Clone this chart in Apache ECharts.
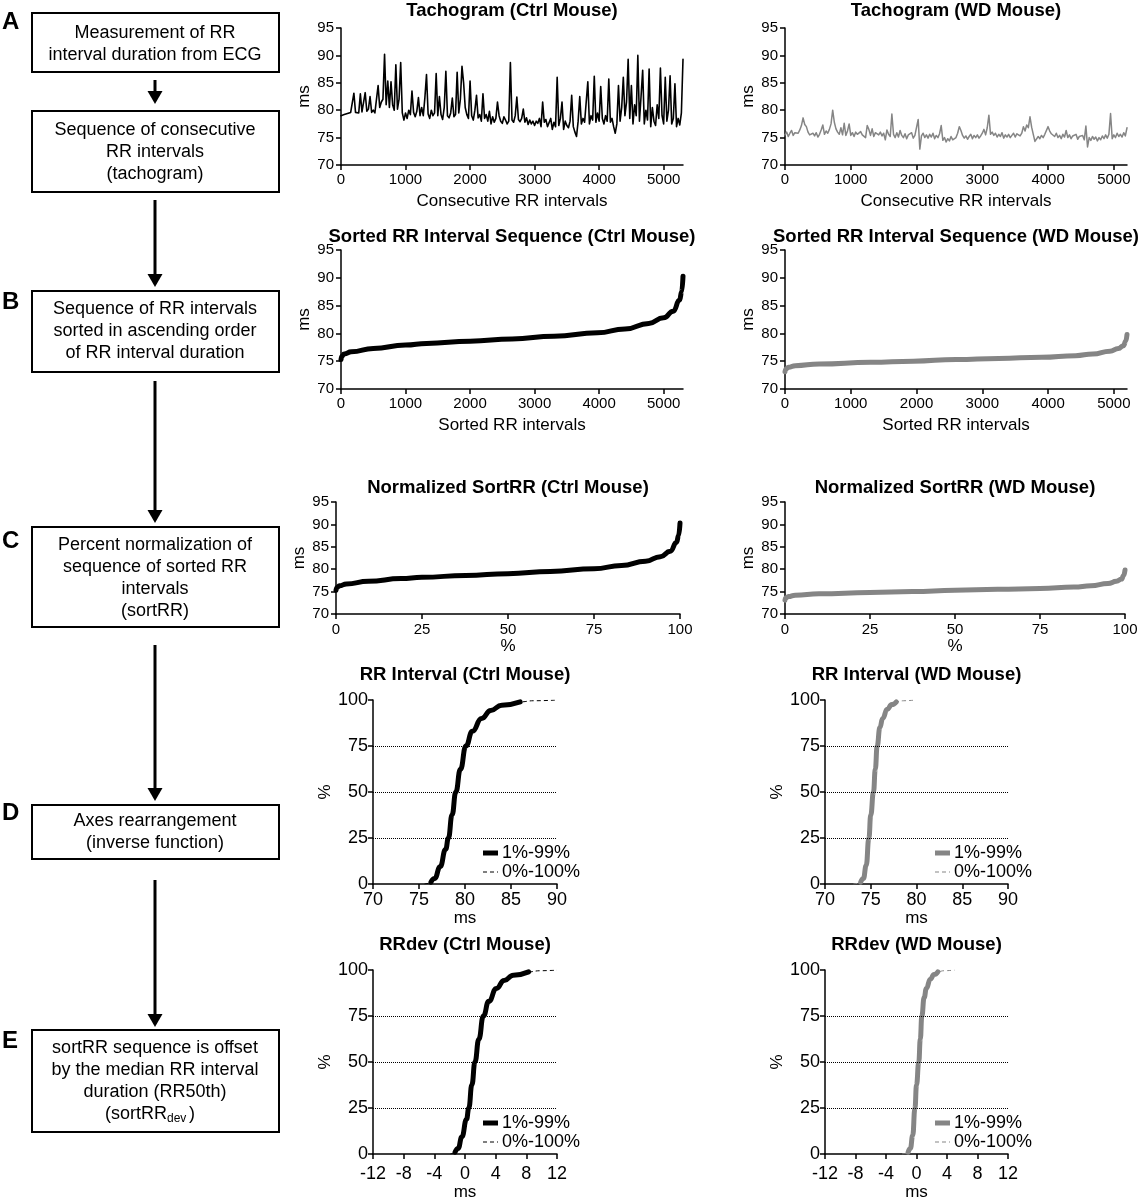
<!DOCTYPE html>
<html><head><meta charset="utf-8">
<script src="https://cdn.jsdelivr.net/npm/echarts@6/dist/echarts.min.js"></script>
<style>html,body{margin:0;padding:0;background:#fff}#c{width:1141px;height:1200px}</style>
</head><body><div id="c"></div>
<script>
const FONT = '"Liberation Sans", Arial, Helvetica, sans-serif';

// ---------------- DATA ----------------
// Tachograms: RR interval (ms) sampled every 25 consecutive beats
const tachoStep = 25;
const ctrlTacho = [
79.0,78.9,79.2,79.0,79.4,79.3,79.6,79.4,
83.1,79.6,79.8,79.5,83.0,79.7,80.0,83.2,
79.8,80.2,82.5,79.6,80.0,79.5,79.8,84.5,
80.5,81.5,82.0,90.2,81.0,85.3,80.5,85.2,
81.0,80.0,88.3,80.2,82.0,88.7,79.5,78.2,
79.5,78.5,80.0,79.2,83.5,79.6,78.8,79.8,
82.3,79.0,80.5,79.0,82.3,86.5,79.3,78.5,
80.0,79.0,79.5,86.7,79.0,82.5,79.2,78.3,
80.5,87.1,79.0,78.6,79.5,82.2,78.8,79.2,
86.9,79.5,82.0,88.0,85.0,80.5,79.2,78.5,
85.3,79.0,78.2,80.0,82.7,78.6,79.2,78.0,
83.0,78.5,79.2,78.0,79.8,77.5,78.8,77.8,
78.5,81.5,79.0,78.0,77.6,78.8,78.2,77.5,
78.0,88.7,78.2,77.8,79.0,82.4,78.3,77.9,
78.5,80.2,77.8,78.6,77.4,78.2,77.5,78.0,
77.2,78.0,77.6,78.5,77.0,81.5,77.8,78.3,
77.0,76.8,78.5,76.5,77.8,77.0,86.0,77.2,
78.5,81.5,76.5,78.0,77.2,76.8,78.0,82.7,
77.0,76.0,75.2,78.0,82.5,77.5,78.5,77.8,
78.0,85.2,77.5,79.0,78.2,86.2,77.8,79.5,
78.0,84.3,78.5,77.5,79.0,78.0,85.7,77.8,
78.5,77.0,75.8,77.5,84.5,78.0,80.5,86.0,
79.0,81.5,89.3,78.5,84.5,77.5,81.0,79.0,
90.0,78.0,82.5,87.3,77.5,80.0,78.2,87.5,
77.0,80.5,78.0,77.2,81.0,78.5,87.7,79.0,
77.5,86.0,78.0,80.0,86.3,77.5,78.5,84.8,
77.0,78.5,77.3,79.5,89.3
];
const wdTacho = [
75.5,76.0,75.2,75.8,76.3,75.4,75.9,75.6,
75.8,76.4,77.2,78.6,77.4,77.0,76.0,75.5,
75.2,75.8,75.3,75.9,75.1,75.6,76.4,77.3,
75.6,76.2,75.8,76.5,77.5,80.0,77.8,76.6,
76.0,75.6,76.8,75.5,77.6,75.4,76.2,77.5,
75.4,75.9,75.2,76.0,75.6,75.3,76.1,75.5,
75.8,75.0,77.2,76.5,75.4,76.6,75.2,75.9,
76.2,75.5,76.0,75.3,75.8,74.6,76.4,75.6,
75.2,79.3,75.6,75.0,75.9,75.1,76.3,75.4,
75.0,75.7,74.8,75.5,75.2,75.9,74.9,75.4,
75.6,78.3,72.9,75.3,75.8,75.0,75.5,74.9,
75.6,75.1,75.8,74.8,75.4,75.0,75.7,77.2,
74.5,75.0,74.2,74.8,74.4,75.2,74.6,74.3,
75.0,75.8,77.0,76.3,75.4,74.9,75.3,74.7,
75.2,75.6,74.8,75.4,75.0,75.5,74.9,75.3,
75.8,76.5,75.5,76.8,79.1,75.6,76.0,75.4,
75.8,75.1,75.6,75.2,75.9,74.9,75.5,75.1,
75.6,75.0,75.4,75.8,75.1,75.7,76.0,75.3,
75.8,77.0,76.2,77.3,76.8,78.8,76.9,75.6,
74.3,74.6,75.2,74.8,75.4,75.0,75.6,75.3,
77.0,76.2,75.7,76.0,75.2,75.8,75.0,75.4,
74.8,75.6,75.1,76.3,75.0,75.5,74.8,75.3,
75.0,75.6,74.7,75.2,74.9,75.4,74.6,77.1,
73.3,75.0,74.5,75.2,74.7,75.1,74.4,75.0,
74.6,75.3,74.8,75.5,74.9,75.6,79.4,74.8,
75.5,75.0,75.8,75.2,75.6,75.1,75.9,75.3,76.8
];
// Sorted RR sequences [rank, ms]
const ctrlSorted = [[0,75.3],[15,75.9],[50,76.3],[160,76.7],[500,77.3],[1000,77.9],[1325,78.2],[2000,78.6],[2650,79.0],[3300,79.5],[3975,80.1],[4400,80.8],[4770,81.8],[5000,82.8],[5150,84.0],[5247,86.0],[5280,87.5],[5300,90.3]];
const wdSorted = [[0,73.1],[16,73.6],[52,73.9],[156,74.2],[520,74.5],[1300,74.8],[1950,75.0],[2600,75.3],[3250,75.5],[3900,75.7],[4420,76.0],[4680,76.3],[4940,76.8],[5070,77.3],[5148,77.8],[5180,78.6],[5200,79.8]];
// Normalized sortRR [%, ms]
const ctrlNorm = [[0,75.3],[0.3,75.9],[1,76.3],[3,76.7],[9.4,77.3],[18.9,77.9],[25,78.2],[37.7,78.6],[50,79.0],[62.3,79.5],[75,80.1],[83,80.8],[90,81.8],[94.3,82.8],[97.2,84.0],[99,86.0],[99.6,87.5],[100,90.3]];
const wdNorm = [[0,73.1],[0.3,73.6],[1,73.9],[3,74.2],[10,74.5],[25,74.8],[37.5,75.0],[50,75.3],[62.5,75.5],[75,75.7],[85,76.0],[90,76.3],[95,76.8],[97.5,77.3],[99,77.8],[99.6,78.6],[100,79.8]];
// RR interval (inverse) [ms, %] : 1%-99% core and 0%/100% tails
const ctrlRRCore = [[76.3,1],[76.7,3],[77.3,9.4],[77.9,18.9],[78.2,25],[78.6,37.7],[79.0,50],[79.5,62.3],[80.1,75],[80.8,83],[81.8,90],[82.8,94.3],[84.0,97.2],[86.0,99]];
const ctrlRRLow = [[75.6,0],[76.0,0.3]];
const ctrlRRHigh = [[87.5,99.6],[90.0,100]];
const wdRRCore = [[73.9,1],[74.2,3],[74.5,10],[74.8,25],[75.0,37.5],[75.3,50],[75.5,62.5],[75.7,75],[76.0,85],[76.3,90],[76.8,95],[77.3,97.5],[77.8,99]];
const wdRRLow = [[73.1,0],[73.6,0.3]];
const wdRRHigh = [[78.6,99.6],[79.8,100]];
// RRdev [ms, %]
const ctrlDevCore = [[-1.3,1],[-0.9,3],[-0.4,9.4],[0.2,18.9],[0.5,25],[0.9,37.7],[1.3,50],[1.8,62.3],[2.4,75],[3.1,83],[4.1,90],[5.1,94.3],[6.3,97.2],[8.3,99]];
const ctrlDevLow = [[-1.9,0],[-1.6,0.3]];
const ctrlDevHigh = [[9.8,99.6],[12.0,100]];
const wdDevCore = [[-1.1,1],[-0.8,3],[-0.5,10],[-0.2,25],[0.0,37.5],[0.3,50],[0.5,62.5],[0.7,75],[1.0,85],[1.3,90],[1.8,95],[2.3,97.5],[2.8,99]];
const wdDevLow = [[-1.9,0],[-1.4,0.3]];
const wdDevHigh = [[3.6,99.6],[5.0,100]];
// ticks / labels
const rankTicks = [0,1000,2000,3000,4000,5000];
const percentLines = [25,50,75];
const titles = ['Tachogram (Ctrl Mouse)','Tachogram (WD Mouse)','Sorted RR Interval Sequence (Ctrl Mouse)','Sorted RR Interval Sequence (WD Mouse)','Normalized SortRR (Ctrl Mouse)','Normalized SortRR (WD Mouse)','RR Interval (Ctrl Mouse)','RR Interval (WD Mouse)','RRdev (Ctrl Mouse)','RRdev (WD Mouse)'];
const legendNames = ['1%-99%','0%-100%'];

// ---------------- LAYOUT ----------------
const BLACK = '#000', GRAY = '#858585';
const grids = [
  {left:341, top:28, width:342, height:137},
  {left:785, top:28, width:342, height:137},
  {left:341, top:250, width:342, height:139},
  {left:785, top:250, width:342, height:139},
  {left:336, top:502, width:344, height:112},
  {left:785, top:502, width:340, height:112},
  {left:373, top:700, width:184, height:184},
  {left:825, top:700, width:183, height:184},
  {left:373, top:970, width:184, height:184},
  {left:825, top:970, width:183, height:184}
];
const titleTops = [1,1,227,227,478,478,665,665,935,935];
const plain = v => String(v);

function xAx(g, min, max, interval, name, nameGap, fs, margin, custom) {
  const a = {
    type:'value', gridIndex:g, min:min, max:max, interval:interval,
    name:name, nameLocation:'middle', nameGap:nameGap,
    nameTextStyle:{color:BLACK, fontSize:17, fontFamily:FONT},
    axisLine:{show:true, onZero:false, lineStyle:{color:BLACK, width:1.5}},
    axisTick:{show:true, length:5, lineStyle:{color:BLACK, width:1.5}},
    axisLabel:{color:BLACK, fontSize:fs, fontFamily:FONT, margin:margin, formatter:plain},
    splitLine:{show:false}
  };
  if (custom) { a.axisTick.customValues = custom; a.axisLabel.customValues = custom; }
  return a;
}
function yAx(g, min, max, interval, name, nameGap, fs, margin) {
  return {
    type:'value', gridIndex:g, min:min, max:max, interval:interval,
    name:name, nameLocation:'middle', nameGap:nameGap,
    nameTextStyle:{color:BLACK, fontSize:17, fontFamily:FONT},
    axisLine:{show:true, onZero:false, lineStyle:{color:BLACK, width:1.5}},
    axisTick:{show:true, length:5, lineStyle:{color:BLACK, width:1.5}},
    axisLabel:{color:BLACK, fontSize:fs, fontFamily:FONT, margin:margin, formatter:plain},
    splitLine:{show:false}
  };
}
const xAxes = [
  xAx(0,0,5300,1000,'Consecutive RR intervals',28,15,7,rankTicks),
  xAx(1,0,5200,1000,'Consecutive RR intervals',28,15,7,rankTicks),
  xAx(2,0,5300,1000,'Sorted RR intervals',28,15,7,rankTicks),
  xAx(3,0,5200,1000,'Sorted RR intervals',28,15,7,rankTicks),
  xAx(4,0,100,25,'%',24,15,8),
  xAx(5,0,100,25,'%',24,15,8),
  xAx(6,70,90,5,'ms',16,18,7),
  xAx(7,70,90,5,'ms',16,18,7),
  xAx(8,-12,12,4,'ms',26,18,11),
  xAx(9,-12,12,4,'ms',26,18,11)
];
const yAxes = [];
for (let g=0; g<6; g++) yAxes.push(yAx(g,70,95,5,'ms',28,15,7));
for (let g=6; g<10; g++) yAxes.push(yAx(g,0,100,25,'%',38,18,5));

function line(g, data, color, width, opts) {
  return Object.assign({
    type:'line', xAxisIndex:g, yAxisIndex:g, data:data, symbol:'none', showSymbol:false,
    lineStyle:{color:color, width:width, cap:'round', join:'round'},
    itemStyle:{color:color}, animation:false, silent:true
  }, opts||{});
}
function dotted() {
  return {silent:true, symbol:'none', label:{show:false},
    lineStyle:{color:BLACK, type:'dotted', width:1},
    data: percentLines.map(v => ({yAxis:v}))};
}
const smoothOpt = {smooth:0.5, smoothMonotone:'x'};
const series = [
  line(0, ctrlTacho.map((v,i)=>[i*tachoStep,v]), BLACK, 1.6, {name:titles[0]}),
  line(1, wdTacho.map((v,i)=>[i*tachoStep,v]), GRAY, 1.5, {name:titles[1]}),
  line(2, ctrlSorted, BLACK, 5, Object.assign({name:titles[2]}, smoothOpt)),
  line(3, wdSorted, GRAY, 5, Object.assign({name:titles[3]}, smoothOpt)),
  line(4, ctrlNorm, BLACK, 5, Object.assign({name:titles[4]}, smoothOpt)),
  line(5, wdNorm, GRAY, 5, Object.assign({name:titles[5]}, smoothOpt)),
];
const invSets = [
  [6, ctrlRRLow, ctrlRRCore, ctrlRRHigh, BLACK],
  [7, wdRRLow, wdRRCore, wdRRHigh, GRAY],
  [8, ctrlDevLow, ctrlDevCore, ctrlDevHigh, BLACK],
  [9, wdDevLow, wdDevCore, wdDevHigh, GRAY]
];
invSets.forEach(([g, lo, core, hi, col]) => {
  series.push(line(g, lo.concat(core, hi), col, 1, Object.assign({name:legendNames[1], z:2,
    lineStyle:{color:col, width:1, type:[4,3]}}, smoothOpt)));
  series.push(line(g, core, col, 5, Object.assign({name:legendNames[0], z:3, markLine:dotted()}, smoothOpt)));
});

// ---------------- GRAPHICS (flowchart + legends) ----------------
const G = [];
function txt(x, y, s, size, opt) {
  const o = Object.assign({align:'center', vAlign:'middle', weight:'normal', lh:21.7}, opt||{});
  G.push({type:'text', x:x, y:y, silent:true, style:{text:s, fill:BLACK,
    font: o.weight+' '+size+'px '+FONT, fontSize:size, fontFamily:FONT, fontWeight:o.weight,
    align:o.align, textAlign:o.align, verticalAlign:o.vAlign, textVerticalAlign:o.vAlign, lineHeight:o.lh}});
}
function box(y, h) {
  G.push({type:'rect', silent:true, shape:{x:32, y:y, width:247, height:h},
    style:{fill:'#fff', stroke:BLACK, lineWidth:2}});
}
function arrow(y1, tip) {
  G.push({type:'line', silent:true, shape:{x1:155, y1:y1, x2:155, y2:tip-10}, style:{stroke:BLACK, lineWidth:3}});
  G.push({type:'polygon', silent:true, shape:{points:[[147.5,tip-13],[162.5,tip-13],[155,tip]]}, style:{fill:BLACK}});
}
const FS = 18;
box(13,59);   txt(155,44,'Measurement of RR\ninterval duration from ECG',FS);
arrow(80,104);
box(111,81);  txt(155,152,'Sequence of consecutive\nRR intervals\n(tachogram)',FS);
arrow(200,287);
box(291,81);  txt(155,331,'Sequence of RR intervals\nsorted in ascending order\nof RR interval duration',FS);
arrow(381,523);
box(527,100); txt(155,578,'Percent normalization of\nsequence of sorted RR\nintervals\n(sortRR)',FS);
arrow(645,801);
box(805,54);  txt(155,832,'Axes rearrangement\n(inverse function)',FS);
arrow(880,1027);
box(1030,102); txt(155,1070,'sortRR sequence is offset\nby the median RR interval\nduration (RR50th)',FS);
txt(167,1114,'(sortRR',FS,{align:'right'});
txt(167,1119,'dev',12,{align:'left'});
txt(184,1114,' )',FS,{align:'left'});
[['A',22],['B',302],['C',541],['D',813],['E',1041]].forEach(([l,y]) => txt(2,y,l,24,{align:'left',weight:'bold'}));

// legends
function legend(x, y, col) {
  G.push({type:'line', silent:true, shape:{x1:x, y1:y, x2:x+15, y2:y}, style:{stroke:col, lineWidth:5}});
  txt(x+19, y, legendNames[0], 18, {align:'left'});
  G.push({type:'line', silent:true, shape:{x1:x, y1:y+19, x2:x+15, y2:y+19}, style:{stroke:col, lineWidth:1, lineDash:[4,3]}});
  txt(x+19, y+19, legendNames[1], 18, {align:'left'});
}
legend(483, 853, BLACK);
legend(935, 853, GRAY);
legend(483, 1123, BLACK);
legend(935, 1123, GRAY);

const option = {
  backgroundColor:'#fff',
  animation:false,
  title: titles.map((t,i) => ({text:t, left: grids[i].left + grids[i].width/2, top: titleTops[i], textAlign:'center', padding:0,
    textStyle:{color:BLACK, fontSize:18.5, fontWeight:'bold', fontFamily:FONT}})),
  grid: grids.map(g => Object.assign({containLabel:false, outerBoundsMode:'none'}, g)),
  xAxis: xAxes,
  yAxis: yAxes,
  series: series,
  graphic: {elements: G}
};
const chart = echarts.init(document.getElementById('c'));
chart.setOption(option);
</script></body></html>
